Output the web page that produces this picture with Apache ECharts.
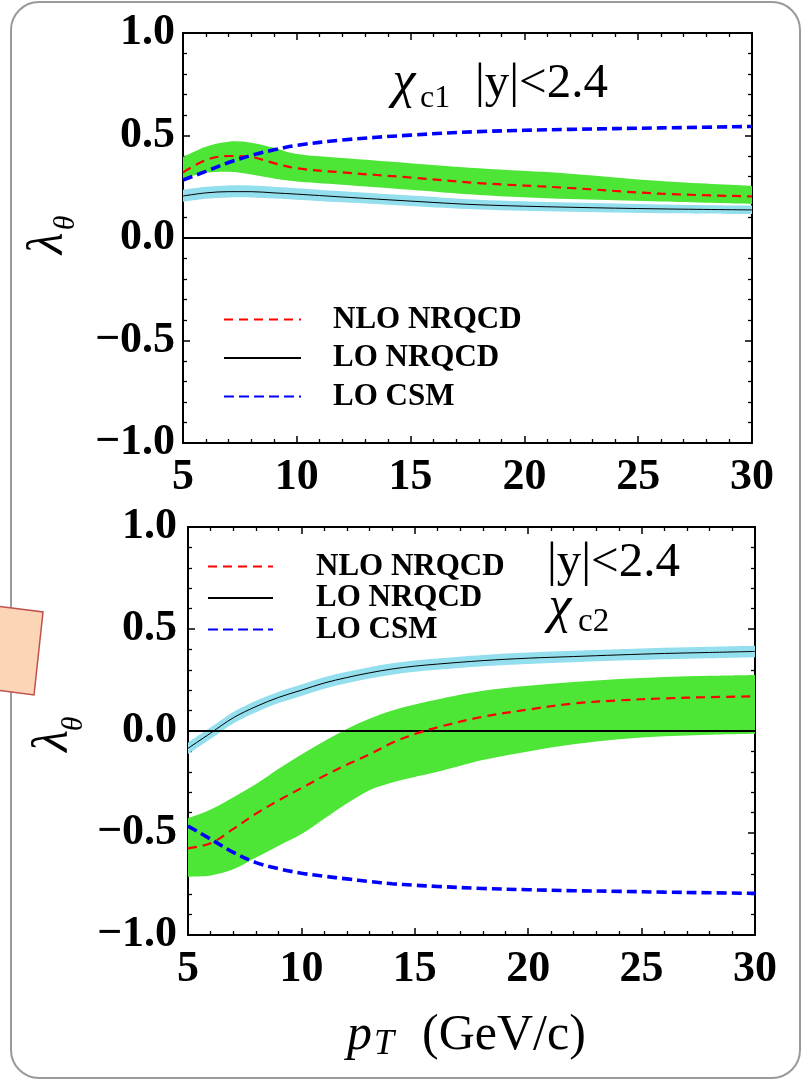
<!DOCTYPE html>
<html>
<head>
<meta charset="utf-8">
<script src="https://cdn.jsdelivr.net/npm/echarts@6/dist/echarts.min.js"></script>
<style>
html,body{margin:0;padding:0;background:#fff;}
#chart{width:807px;height:1081px;}
</style>
</head>
<body>
<div id="chart"></div>
<script>
// ---------- data ----------
// Top panel: chi_c1, |y|<2.4
const ptC1 = [5, 6, 7, 8, 9, 10, 12, 15, 18, 22, 26, 30];
const c1NloUpper = [0.395, 0.445, 0.470, 0.465, 0.440, 0.410, 0.390, 0.365, 0.340, 0.314, 0.278, 0.254];
const c1NloLower = [0.290, 0.318, 0.323, 0.310, 0.290, 0.276, 0.260, 0.235, 0.210, 0.190, 0.178, 0.166];
const c1NloCentral = [0.320, 0.380, 0.400, 0.395, 0.365, 0.340, 0.320, 0.295, 0.268, 0.244, 0.216, 0.203];
const c1LoUpper = [0.235, 0.250, 0.256, 0.256, 0.250, 0.243, 0.228, 0.207, 0.187, 0.173, 0.164, 0.158];
const c1LoLower = [0.177, 0.192, 0.198, 0.198, 0.193, 0.187, 0.174, 0.156, 0.139, 0.128, 0.121, 0.117];
const c1LoCentral = [0.205, 0.220, 0.226, 0.226, 0.220, 0.214, 0.200, 0.180, 0.162, 0.150, 0.142, 0.137];
const c1Csm = [0.283, 0.325, 0.368, 0.403, 0.430, 0.452, 0.478, 0.502, 0.519, 0.530, 0.537, 0.544];

// Bottom panel: chi_c2, |y|<2.4
const ptC2 = [5, 6, 7, 8, 9, 10, 11, 12, 13, 14, 15, 16, 18, 20, 22, 24, 26, 28, 30];
const c2NloUpper = [-0.428, -0.385, -0.325, -0.260, -0.185, -0.115, -0.050, 0.010, 0.060, 0.100, 0.130, 0.155, 0.197, 0.222, 0.240, 0.255, 0.265, 0.271, 0.275];
const c2NloLower = [-0.714, -0.708, -0.678, -0.620, -0.562, -0.505, -0.430, -0.355, -0.290, -0.252, -0.225, -0.200, -0.142, -0.100, -0.065, -0.040, -0.026, -0.018, -0.013];
const c2NloCentral = [-0.575, -0.550, -0.480, -0.405, -0.340, -0.280, -0.220, -0.165, -0.115, -0.058, -0.015, 0.018, 0.070, 0.105, 0.135, 0.150, 0.160, 0.166, 0.170];
const c2LoCentral = [-0.085, -0.010, 0.065, 0.120, 0.165, 0.200, 0.235, 0.262, 0.285, 0.304, 0.318, 0.328, 0.345, 0.357, 0.365, 0.373, 0.380, 0.385, 0.390];
const c2LoUpper = [-0.057, 0.018, 0.093, 0.148, 0.193, 0.228, 0.263, 0.290, 0.313, 0.332, 0.346, 0.356, 0.373, 0.385, 0.393, 0.401, 0.408, 0.413, 0.418];
const c2LoLower = [-0.113, -0.038, 0.037, 0.092, 0.137, 0.172, 0.207, 0.234, 0.257, 0.276, 0.290, 0.300, 0.317, 0.329, 0.337, 0.345, 0.352, 0.357, 0.362];
const c2Csm = [-0.466, -0.530, -0.595, -0.645, -0.675, -0.697, -0.712, -0.725, -0.738, -0.749, -0.756, -0.762, -0.772, -0.778, -0.783, -0.786, -0.790, -0.793, -0.796];

const xTicks = [5, 10, 15, 20, 25, 30];
const yTicks = [-1.0, -0.5, 0.0, 0.5, 1.0];
const legendNames = ['NLO NRQCD', 'LO NRQCD', 'LO CSM'];

// ---------- helpers ----------
const SERIF = "'Liberation Serif', 'Times New Roman', serif";
const GREEN = '#4de637';
const LIGHTBLUE = '#93dfee';
const zip = (xs, ys) => xs.map((x, i) => [x, ys[i]]);

function xAxisDef(grid, pos, showLabel) {
  return {
    type: 'value', gridIndex: grid, position: pos,
    min: xTicks[0], max: xTicks[xTicks.length - 1], interval: xTicks[1] - xTicks[0],
    axisLine: { onZero: false, lineStyle: { color: '#000', width: 2 } },
    axisTick: { inside: true, length: 7, lineStyle: { color: '#000', width: 1.5 } },
    minorTick: { show: true, splitNumber: 5, length: 4, lineStyle: { color: '#000', width: 1.3 } },
    splitLine: { show: false },
    axisLabel: {
      show: showLabel, margin: 13, color: '#000',
      fontFamily: SERIF, fontWeight: 'bold', fontSize: 44,
      showMinLabel: true, showMaxLabel: true,
      formatter: v => String(v)
    }
  };
}
function yAxisDef(grid, pos, showLabel, margin) {
  return {
    type: 'value', gridIndex: grid, position: pos,
    min: yTicks[0], max: yTicks[yTicks.length - 1], interval: yTicks[1] - yTicks[0],
    axisLine: { onZero: false, lineStyle: { color: '#000', width: 2 } },
    axisTick: { inside: true, length: 7, lineStyle: { color: '#000', width: 1.5 } },
    minorTick: { show: true, splitNumber: 5, length: 4, lineStyle: { color: '#000', width: 1.3 } },
    splitLine: { show: false },
    axisLabel: {
      show: showLabel, margin: margin, color: '#000',
      fontFamily: SERIF, fontWeight: 'bold', fontSize: 44,
      showMinLabel: true, showMaxLabel: true,
      formatter: v => (v < 0 ? '\u2212' : '') + Math.abs(v).toFixed(1)
    }
  };
}
// Catmull-Rom -> cubic bezier segments through screen points
function splineSegs(p) {
  let d = '';
  for (let i = 0; i < p.length - 1; i++) {
    const p0 = p[i - 1] || p[i], p1 = p[i], p2 = p[i + 1], p3 = p[i + 2] || p[i + 1];
    const c1x = p1[0] + (p2[0] - p0[0]) / 6, c1y = p1[1] + (p2[1] - p0[1]) / 6;
    const c2x = p2[0] - (p3[0] - p1[0]) / 6, c2y = p2[1] - (p3[1] - p1[1]) / 6;
    d += ' C' + c1x + ',' + c1y + ' ' + c2x + ',' + c2y + ' ' + p2[0] + ',' + p2[1];
  }
  return d;
}
function band(name, xi, yi, xs, up, lo, color) {
  return {
    name: name, type: 'custom', coordinateSystem: 'cartesian2d',
    xAxisIndex: xi, yAxisIndex: yi, silent: true, animation: false,
    data: zip(xs, up),
    renderItem: function (params, api) {
      if (params.dataIndex !== 0) return null;
      const u = xs.map((x, i) => api.coord([x, up[i]]));
      const l = xs.map((x, i) => api.coord([x, lo[i]])).reverse();
      const d = 'M' + u[0][0] + ',' + u[0][1] + splineSegs(u) +
                ' L' + l[0][0] + ',' + l[0][1] + splineSegs(l) + ' Z';
      return { type: 'path', shape: { pathData: d }, style: { fill: color, stroke: null } };
    }
  };
}
function curve(name, xi, yi, xs, ys, color, width, dash) {
  return {
    name: name, type: 'line', xAxisIndex: xi, yAxisIndex: yi, data: zip(xs, ys),
    symbol: 'none', showSymbol: false, smooth: 0.35, silent: true, animation: false,
    lineStyle: { color: color, width: width, type: dash || 'solid' },
    itemStyle: { color: color }, emphasis: { disabled: true }
  };
}
function zeroLine(xi, yi) {
  return {
    name: 'zero' + xi, type: 'line', xAxisIndex: xi, yAxisIndex: yi,
    data: [[xTicks[0], 0], [xTicks[xTicks.length - 1], 0]],
    symbol: 'none', silent: true, animation: false,
    lineStyle: { color: '#000', width: 1.8 }, emphasis: { disabled: true }
  };
}
function legendDef(left, top, itemWidth, gap, textPad) {
  return {
    data: legendNames, orient: 'vertical', left: left, top: top, padding: 0,
    itemWidth: itemWidth, itemHeight: 14, itemGap: gap, selectedMode: false,
    itemStyle: { opacity: 0 },
    textStyle: { fontFamily: SERIF, fontWeight: 'bold', fontSize: 31, lineHeight: 31, color: '#000', padding: [0, 0, 0, textPad] }
  };
}
function txt(x, y, text, size, style, align) {
  return {
    type: 'text', x: x, y: y, z: 10,
    style: { text: text, font: (style || '') + ' ' + size + 'px ' + SERIF, fill: '#000',
             textAlign: align || 'left', textVerticalAlign: 'middle' }
  };
}
function rtxt(x, y, text, size, style) {
  return {
    type: 'text', x: x, y: y, rotation: Math.PI / 2, z: 10,
    style: { text: text, font: (style || '') + ' ' + size + 'px ' + SERIF, fill: '#000',
             textAlign: 'center', textVerticalAlign: 'middle' }
  };
}

const RED_DASH = [9, 6];
const BLUE_DASH = [10, 5];

const series = [
  band('c1nlo', 0, 0, ptC1, c1NloUpper, c1NloLower, GREEN),
  band('c1lo', 0, 0, ptC1, c1LoUpper, c1LoLower, LIGHTBLUE),
  zeroLine(0, 0),
  curve('NLO NRQCD', 0, 0, ptC1, c1NloCentral, '#ff0000', 2.2, RED_DASH),
  curve('LO NRQCD', 0, 0, ptC1, c1LoCentral, '#000000', 1),
  curve('LO CSM', 0, 0, ptC1, c1Csm, '#0000ff', 3.6, BLUE_DASH),
  band('c2nlo', 2, 2, ptC2, c2NloUpper, c2NloLower, GREEN),
  band('c2lo', 2, 2, ptC2, c2LoUpper, c2LoLower, LIGHTBLUE),
  zeroLine(2, 2),
  curve('NLO NRQCD', 2, 2, ptC2, c2NloCentral, '#ff0000', 2.2, RED_DASH),
  curve('LO NRQCD', 2, 2, ptC2, c2LoCentral, '#000000', 1),
  curve('LO CSM', 2, 2, ptC2, c2Csm, '#0000ff', 3.6, BLUE_DASH)
];

const option = {
  backgroundColor: '#fff',
  animation: false,
  grid: [
    { left: 183, top: 33, width: 569, height: 410 },
    { left: 188, top: 527, width: 567, height: 408 }
  ],
  xAxis: [xAxisDef(0, 'bottom', true), xAxisDef(0, 'top', false), xAxisDef(1, 'bottom', true), xAxisDef(1, 'top', false)],
  yAxis: [yAxisDef(0, 'left', true, 8), yAxisDef(0, 'right', false, 8), yAxisDef(1, 'left', true, 11), yAxisDef(1, 'right', false, 11)],
  legend: [legendDef(223, 304, 77, 7.5, 27), legendDef(207, 551, 65, 0.5, 38)],
  series: series,
  graphic: [
    { type: 'rect', z: 0, shape: { x: 11, y: 2, width: 789, height: 1076, r: 28 },
      style: { fill: 'none', stroke: '#9a9a9a', lineWidth: 2 } },
    { type: 'polygon', z: 20, shape: { points: [[-3, 606], [43, 612], [34, 695], [-3, 690]] },
      style: { fill: '#fcd5b6', stroke: '#c0504d', lineWidth: 1.5 } },
    // y axis titles
    rtxt(48.5, 243.5, '\u03bb', 50, 'italic'),
    rtxt(66, 223, '\u03b8', 30, 'italic'),
    rtxt(53.5, 741, '\u03bb', 50, 'italic'),
    rtxt(74, 724, '\u03b8', 30, 'italic'),
    // top annotation
    txt(404, 83, '\u03c7', 52, 'italic', 'center'),
    txt(420, 99, 'c1', 32, ''),
    txt(475, 84, '|y|<2.4', 49, ''),
    // bottom annotation
    txt(547, 563.5, '|y|<2.4', 49, ''),
    txt(560, 608, '\u03c7', 52, 'italic', 'center'),
    txt(578, 622, 'c2', 33, ''),
    // x axis title
    txt(347, 1036, 'p', 50, 'italic'),
    txt(374, 1045, 'T', 36, 'italic'),
    txt(422, 1036, '(GeV/c)', 50, '')
  ]
};

const chart = echarts.init(document.getElementById('chart'), null, { renderer: 'canvas' });
chart.setOption(option);
</script>
</body>
</html>
